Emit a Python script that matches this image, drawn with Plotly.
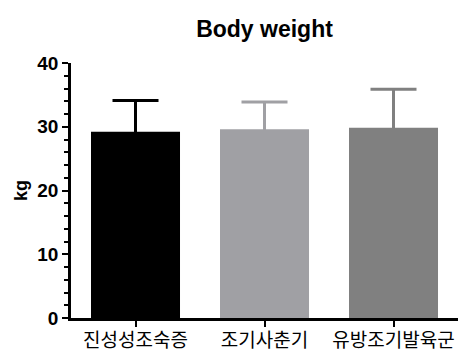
import plotly.graph_objects as go

categories = ["진성성조숙증", "조기사춘기", "유방조기발육군"]
means = [29.2, 29.6, 29.85]
sd_upper = [4.9, 4.3, 6.05]
bar_colors = ["#000000", "#A0A0A4", "#808080"]
y_ticks = [0, 10, 20, 30, 40]

# page body adds an 8px offset, so the figure is drawn 8px smaller
W, H = 468, 344

fig = go.Figure()
# error bars first (symmetric; lower half hidden by the bars drawn on top)
for cat, m, e, c in zip(categories, means, sd_upper, bar_colors):
    fig.add_trace(go.Bar(
        x=[cat], y=[m], marker=dict(color="rgba(0,0,0,0)", line=dict(width=0)),
        width=0.69,
        error_y=dict(type="data", array=[e], color=c, thickness=3, width=23),
        showlegend=False, hoverinfo="skip",
    ))
fig.add_trace(go.Bar(
    x=categories, y=means, marker=dict(color=bar_colors, line=dict(width=0)),
    width=0.69, showlegend=False,
))

fig.update_layout(
    width=W, height=H,
    margin=dict(l=63, r=18, t=55, b=34),
    plot_bgcolor="white", paper_bgcolor="white",
    barmode="overlay",
    title=dict(text="<b>Body weight</b>", x=256.5 / W, xanchor="center",
               y=1 - 21 / H, yanchor="middle", automargin=False,
               font=dict(family="Liberation Sans, Arial", size=23, color="black")),
)
fig.update_xaxes(
    categoryorder="array", categoryarray=categories, range=[-0.5, 2.5],
    showline=True, linecolor="black", linewidth=2.5, automargin=False,
    ticks="outside", ticklen=6, tickwidth=2, tickcolor="black",
    ticklabelstandoff=-3,
    tickfont=dict(family="Noto Sans CJK KR", size=19, color="black"),
    showgrid=False, zeroline=False,
)
fig.update_yaxes(
    range=[0, 40], tickvals=y_ticks, automargin=False,
    showline=True, linecolor="black", linewidth=2.5,
    ticks="outside", ticklen=6, tickwidth=2, tickcolor="black",
    minor=dict(dtick=2, ticks="outside", ticklen=4, tickwidth=2, tickcolor="black", showgrid=False),
    tickfont=dict(family="Liberation Sans, Arial", size=19, color="black", weight="bold"),
    title=dict(text="<b>kg</b>", font=dict(family="Liberation Sans, Arial", size=18, color="black"), standoff=6),
    showgrid=False, zeroline=False,
)

fig.write_html("out.html")
